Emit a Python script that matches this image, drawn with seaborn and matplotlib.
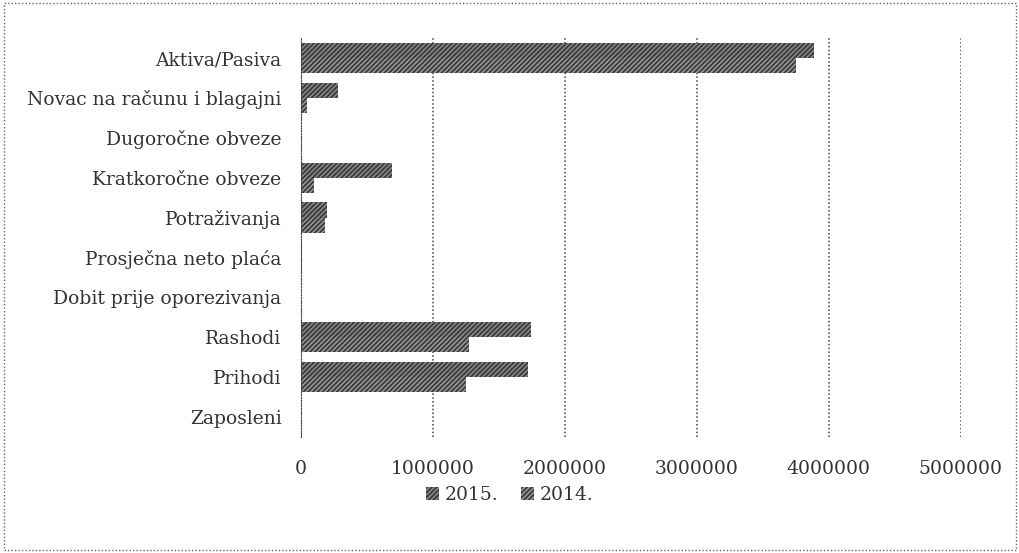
import pandas as pd
import numpy as np
import matplotlib
matplotlib.use("Agg")
import matplotlib.pyplot as plt
import seaborn as sns
from matplotlib.patches import Rectangle

# Categories top to bottom
categories = [
    "Aktiva/Pasiva",
    "Novac na računu i blagajni",
    "Dugoročne obveze",
    "Kratkoročne obveze",
    "Potraživanja",
    "Prosječna neto plaća",
    "Dobit prije oporezivanja",
    "Rashodi",
    "Prihodi",
    "Zaposleni",
]
values_2015 = [3890000, 280000, 0, 690000, 200000, 5000, 3000, 1740000, 1720000, 30]
values_2014 = [3750000, 50000, 0, 100000, 180000, 5000, 2000, 1270000, 1250000, 30]
years = ["2015.", "2014."]
x_ticks = [0, 1000000, 2000000, 3000000, 4000000, 5000000]

df = pd.DataFrame({
    "category": categories * 2,
    "value": values_2015 + values_2014,
    "year": [years[0]] * len(categories) + [years[1]] * len(categories),
})

sns.set_style("white")
plt.rcParams["font.family"] = ["DejaVu Serif"]
plt.rcParams["hatch.linewidth"] = 1.3

fig = plt.figure(figsize=(10.2, 5.53), dpi=100)
ax = fig.add_axes([0.295, 0.21, 0.647, 0.721])

colors = {"2015.": "#8a8a8a", "2014.": "#9a9a9a"}
sns.barplot(data=df, y="category", x="value", hue="year", order=categories,
            hue_order=years, palette=colors, orient="h", width=0.76,
            ax=ax, legend=False, saturation=1)

for bar in ax.patches:
    bar.set_hatch("///////")
    bar.set_edgecolor("#3a3a3a")
    bar.set_linewidth(0)

fs = 13.5
ax.set_xlim(0, 5000000)
ax.set_ylim(len(categories) - 0.5, -0.5)
ax.set_xticks(x_ticks)
ax.set_xticklabels([str(t) for t in x_ticks], fontsize=fs, color="#333333")
ax.tick_params(axis="y", labelsize=fs, labelcolor="#333333", length=0, pad=14)
ax.tick_params(axis="x", length=0, pad=17)
ax.set_xlabel("")
ax.set_ylabel("")

ax.grid(axis="x", linestyle=(0, (1, 1.5)), color="#444444", linewidth=1.1)
ax.set_axisbelow(True)
for s in ["top", "right", "bottom"]:
    ax.spines[s].set_visible(False)
ax.spines["left"].set_linestyle((0, (1, 1.5)))
ax.spines["left"].set_color("#444444")

handles = [Rectangle((0, 0), 1, 1, facecolor=colors[y], hatch="///////",
                     edgecolor="#3a3a3a", linewidth=0) for y in years]
fig.legend(handles, years, loc="center", bbox_to_anchor=(0.5, 0.104), ncol=2,
           frameon=False, fontsize=fs, handlelength=0.7, handleheight=0.7,
           handletextpad=0.3, columnspacing=1.2, labelcolor="#333333")

# dotted chart border
border = Rectangle((0.004, 0.005), 0.992, 0.99, transform=fig.transFigure,
                   fill=False, linestyle=(0, (1, 1.5)), edgecolor="#666666",
                   linewidth=1)
fig.patches.append(border)

fig.savefig("out.png", dpi=100)
